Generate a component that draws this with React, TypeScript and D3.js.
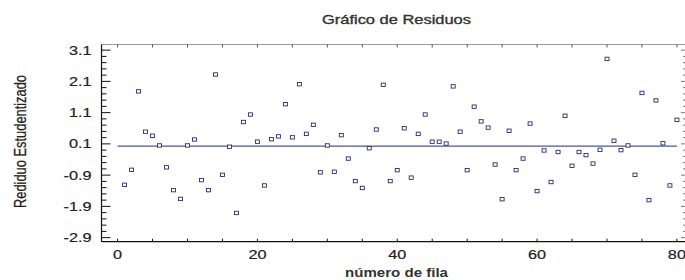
import React from "react";
import { scaleLinear, range } from "d3";

// residuos estudentizados, filas 1..80
const residuals = [
  -1.21, -0.73, 1.78, 0.49, 0.36, 0.05, -0.65, -1.38, -1.66, 0.05,
  0.24, -1.06, -1.38, 2.32, -0.89, 0.01, -2.11, 0.8, 1.04, 0.17,
  -1.23, 0.25, 0.34, 1.37, 0.31, 2.01, 0.42, 0.71, -0.81, 0.05,
  -0.79, 0.38, -0.37, -1.09, -1.31, -0.04, 0.56, 1.99, -1.09, -0.74,
  0.6, -0.98, 0.42, 1.04, 0.17, 0.17, 0.11, 1.94, 0.49, -0.74,
  1.29, 0.82, 0.62, -0.56, -1.67, 0.52, -0.74, -0.37, 0.75, -1.41,
  -0.11, -1.12, -0.16, 1.0, -0.6, -0.16, -0.26, -0.53, -0.09, 2.82,
  0.2, -0.1, 0.05, -0.89, 1.73, -1.7, 1.49, 0.12, -1.23, 0.87,
];
const yTicks = [3.1, 2.1, 1.1, 0.1, -0.9, -1.9, -2.9];
const xTicks = [0, 20, 40, 60, 80];

const width = 685;
const height = 280;
const margin = { top: 44.5, right: -1, bottom: 38.3, left: 101.5 };
const font = "Liberation Sans, Arial, sans-serif";
// the original picture is stretched sideways a bit
const stretch = 1.3;

const App = () => {
  const innerW = width - margin.left - margin.right;
  const innerH = height - margin.top - margin.bottom;

  const xScale = scaleLinear().domain([-2.3, 81.3]).range([0, innerW]);
  const yScale = scaleLinear().domain([-3.03, 3.28]).range([innerH, 0]);

  const minorY = range(-2.9, 3.2, 0.2).map((v) => Math.round(v * 10) / 10);
  const minorX = range(0, 81, 5);

  return (
    <svg width={width} height={height} style={{ position: "absolute", left: 0, top: 0 }}>
      <rect width={width} height={height} fill="white" />
      <text
        x={322}
        y={23.5}
        textLength={149}
        lengthAdjust="spacingAndGlyphs"
        fontFamily={font}
        fontSize={12}
        fill="#333"
        stroke="#333"
        strokeWidth={0.35}
      >
        Gráfico de Residuos
      </text>
      <text
        transform={`translate(25.5, 141.5) scale(${stretch}, 1) rotate(-90)`}
        textAnchor="middle"
        textLength={133}
        lengthAdjust="spacingAndGlyphs"
        fontFamily={font}
        fontSize={12}
        fill="#222"
        stroke="#222"
        strokeWidth={0.2}
      >
        Rediduo Estudentizado
      </text>
      <text
        x={345}
        y={277}
        textLength={103}
        lengthAdjust="spacingAndGlyphs"
        fontFamily={font}
        fontSize={12}
        fontWeight="bold"
        fill="#333"
      >
        número de fila
      </text>

      <g transform={`translate(${margin.left}, ${margin.top})`}>
        {/* frame */}
        <line x1={0} x2={innerW} y1={0} y2={0} stroke="#999" />
        <line x1={innerW} x2={innerW} y1={0} y2={innerH} stroke="#999" />

        {/* y ticks */}
        {minorY.map((v, i) => {
          const major = yTicks.some((t) => Math.abs(t - v) < 1e-6);
          return (
            <g key={i} transform={`translate(0, ${yScale(v)})`}>
              <line x1={0} x2={major ? 9 : 5} stroke="#111" />
              <line x1={innerW} x2={innerW - (major ? 5 : 3)} stroke="#777" />
            </g>
          );
        })}
        {yTicks.map((v, i) => (
          <text
            key={i}
            transform={`translate(-10, ${yScale(v)}) scale(${stretch}, 1)`}
            dy="0.36em"
            textAnchor="end"
            fontFamily={font}
            fontSize={12.5}
            fill="#222"
            stroke="#222"
            strokeWidth={0.2}
          >
            {v.toFixed(1)}
          </text>
        ))}

        {/* x ticks */}
        {minorX.map((v, i) => (
          <g key={i} transform={`translate(${xScale(v)}, 0)`}>
            <line y1={innerH} y2={innerH - 3} stroke="#111" />
            <line y1={0} y2={3} stroke="#555" />
          </g>
        ))}
        {xTicks.map((v, i) => (
          <text
            key={i}
            transform={`translate(${xScale(v)}, ${innerH + 17}) scale(${stretch}, 1)`}
            textAnchor="middle"
            fontFamily={font}
            fontSize={12.5}
            fill="#222"
            stroke="#222"
            strokeWidth={0.2}
          >
            {v}
          </text>
        ))}

        {/* reference line */}
        <line x1={xScale(0)} x2={xScale(80)} y1={yScale(0.03)} y2={yScale(0.03)} stroke="#4a5896" strokeWidth={1.3} />

        {/* points */}
        {residuals.map((d, i) => (
          <rect
            key={i}
            x={xScale(i + 1) - 2}
            y={yScale(d) - 1.7}
            width={4}
            height={3.4}
            fill="white"
            stroke="#2a2a78"
            strokeWidth={0.9}
          />
        ))}

        {/* left and bottom axes */}
        <line x1={0} x2={0} y1={0} y2={innerH} stroke="#111" strokeWidth={1.2} />
        <line x1={0} x2={innerW} y1={innerH} y2={innerH} stroke="#111" strokeWidth={1.2} />
      </g>
    </svg>
  );
};

export default App;
